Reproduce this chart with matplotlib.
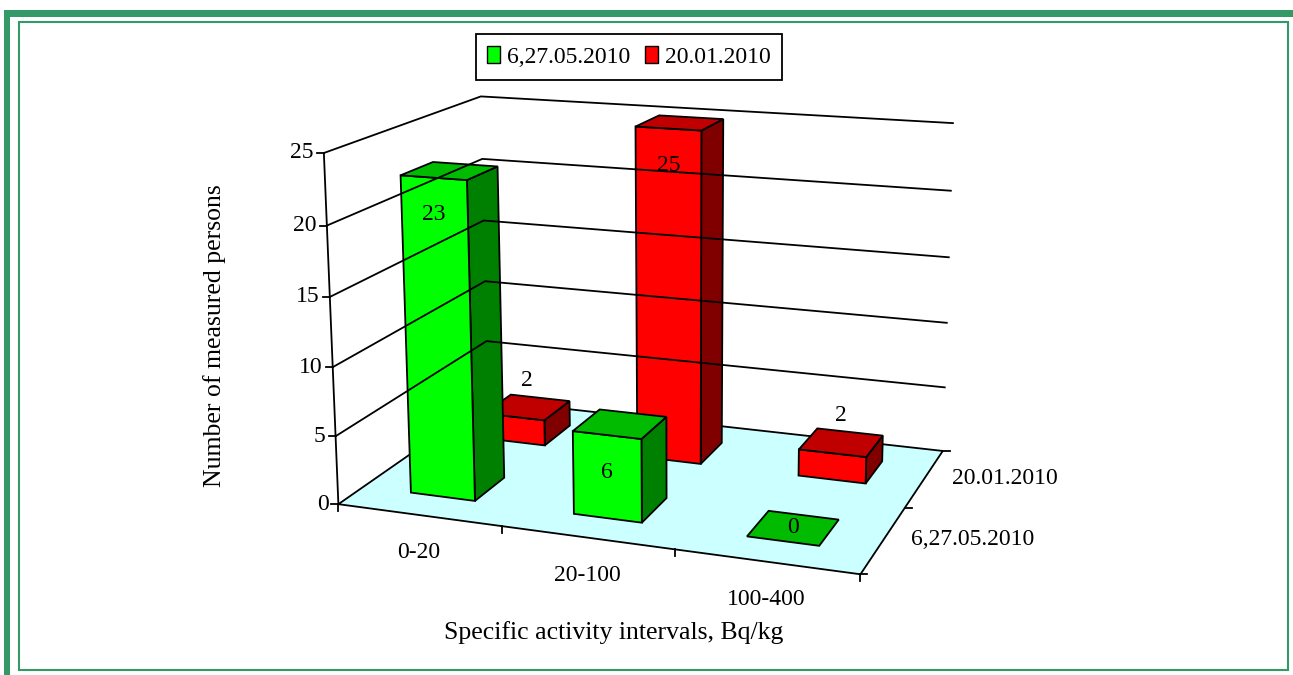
import numpy as np
import matplotlib
matplotlib.use("Agg")
import matplotlib.pyplot as plt
from matplotlib.patches import Polygon, Rectangle, Patch

# ---------------- data ----------------
categories = ["0-20", "20-100", "100-400"]
series_names = ["6,27.05.2010", "20.01.2010"]
values_may = [23, 6, 0]
values_jan = [2, 25, 2]
y_ticks = [0, 5, 10, 15, 20, 25]
x_title = "Specific activity intervals, Bq/kg"
y_title = "Number of measured persons"

series_values = [values_may, values_jan]
face_colors = [("#00FF00", "#00BB00", "#008000"),   # front, top, side
               ("#FF0000", "#C00000", "#800000")]

W, H = 1293, 675
ZMAX = y_ticks[-1]
NC, NS = len(categories), len(series_names)

# ---------------- 3D box layout (camera calibration of plot box) ----------------
calib_world = [(0, 0, 0), (0, 0, 25), (0, 0, 10), (0, 2, 25), (1, 0, 0), (2, 0, 0),
               (3, 0, 0), (3, 1, 0), (3, 2, 0), (3, 2, 10), (3, 2, 25)]
calib_pix = [(339, 501), (325, 152), (332, 367), (480, 97), (502, 530), (675, 553),
             (858, 572), (908, 506), (942, 450), (947, 324), (953, 123)]

def _norm(p):
    return (p[0] / NC, p[1] / NS, p[2] / ZMAX)

def fit_camera(world, pix):
    A = []
    for w, (u, v) in zip(world, pix):
        X, Y, Z = _norm(w)
        u, v = u / 1000.0, v / 1000.0
        A.append([X, Y, Z, 1, 0, 0, 0, 0, -u * X, -u * Y, -u * Z, -u])
        A.append([0, 0, 0, 0, X, Y, Z, 1, -v * X, -v * Y, -v * Z, -v])
    _, _, Vt = np.linalg.svd(np.array(A))
    return Vt[-1].reshape(3, 4)

P = fit_camera(calib_world, calib_pix)

def proj(x, y, z):
    X, Y, Z = _norm((x, y, z))
    r = P @ np.array([X, Y, Z, 1.0])
    return (1000 * r[0] / r[2], 1000 * r[1] / r[2])

# ---------------- figure ----------------
plt.rcParams['font.family'] = ['Liberation Serif', 'DejaVu Serif']
fig = plt.figure(figsize=(W / 100, H / 100), dpi=100)
ax = fig.add_axes([0, 0, 1, 1])
ax.set_xlim(0, W)
ax.set_ylim(H, 0)
ax.axis('off')

FS = 17
FS_TITLE = 18.5
frame_green = "#339966"
# frame
ax.add_patch(Rectangle((4, 10), W - 4, 7, color=frame_green, lw=0))
ax.add_patch(Rectangle((4, 10), 6, H - 10, color=frame_green, lw=0))
ax.add_patch(Rectangle((19, 22), 1269, 648, fill=False, edgecolor=frame_green, lw=1.5))

LW = 1.3
# floor
floor = [proj(0, 0, 0), proj(NC, 0, 0), proj(NC, NS, 0), proj(0, NS, 0)]
ax.add_patch(Polygon(floor, closed=True, facecolor="#CCFFFF", edgecolor="black", lw=LW))

# gridlines on side wall and back wall
for z in y_ticks[1:]:
    pts = [proj(0, 0, z), proj(0, NS, z), proj(NC, NS, z)]
    ax.plot([p[0] for p in pts], [p[1] for p in pts], color="black", lw=LW)

# value axis
a, b = proj(0, 0, 0), proj(0, 0, ZMAX)
ax.plot([a[0], b[0]], [a[1], b[1]], color="black", lw=LW)
for z in y_ticks:
    px, py = proj(0, 0, z)
    ax.plot([px - 7, px], [py, py], color="black", lw=LW)
    ax.text(px - 10, py, str(z), ha="right", va="center", fontsize=FS)

# category axis ticks & labels
for c in range(NC + 1):
    px, py = proj(c, 0, 0)
    ax.plot([px, px], [py, py + 7], color="black", lw=LW)
for c, lab in enumerate(categories):
    px, py = proj(c + 0.5, 0, 0)
    ax.text(px, py + 38, lab, ha="center", va="center", fontsize=FS)

# series axis ticks & labels
for s in range(NS + 1):
    px, py = proj(NC, s, 0)
    ax.plot([px, px + 7], [py, py], color="black", lw=LW)
for s, lab in enumerate(series_names):
    px, py = proj(NC, s + 0.5, 0)
    ax.text(px + 27, py, lab, ha="left", va="center", fontsize=FS)

# bars (back series first)
gap = 0.3
for s in reversed(range(NS)):
    fc, tc, sc = face_colors[s]
    for c in range(NC):
        v = series_values[s][c]
        x0, x1 = c + gap, c + 1 - gap
        y0, y1 = s + gap, s + 1 - gap
        top = [proj(x0, y0, v), proj(x1, y0, v), proj(x1, y1, v), proj(x0, y1, v)]
        if v > 0:
            front = [proj(x0, y0, 0), proj(x1, y0, 0), proj(x1, y0, v), proj(x0, y0, v)]
            side = [proj(x1, y0, 0), proj(x1, y1, 0), proj(x1, y1, v), proj(x1, y0, v)]
            ax.add_patch(Polygon(side, closed=True, facecolor=sc, edgecolor="black", lw=LW))
            ax.add_patch(Polygon(front, closed=True, facecolor=fc, edgecolor="black", lw=LW))
        ax.add_patch(Polygon(top, closed=True, facecolor=tc, edgecolor="black", lw=LW))

# value labels
for s in range(NS):
    for c in range(NC):
        v = series_values[s][c]
        if v >= 5:
            px, py = proj(c + 0.5, s + gap, v)
            py += 37
        elif v > 0:
            px, py = proj(c + 0.5, s + 0.5, v)
            py -= 27
        else:
            px, py = proj(c + 0.5, s + 0.5, 0)
        ax.text(px, py, str(v), ha="center", va="center", fontsize=FS)

# axis titles
ax.text(614, 633, x_title, ha="center", va="center", fontsize=FS_TITLE)
ax.text(215, 336, y_title, ha="center", va="center", rotation=90, fontsize=FS_TITLE)

# legend
handles = [Patch(facecolor=face_colors[i][0], edgecolor="black", lw=1) for i in range(NS)]
leg = fig.legend(handles, series_names, loc="center", ncol=2,
                 bbox_to_anchor=(629 / W, 1 - 57 / H), fontsize=FS,
                 frameon=True, fancybox=False, shadow=False, framealpha=1,
                 handlelength=0.55, handleheight=0.7, handletextpad=0.3,
                 columnspacing=0.6, borderpad=0.5, borderaxespad=0)
leg.get_frame().set_edgecolor("black")
leg.get_frame().set_linewidth(1.3)

fig.savefig("out.png", dpi=100)
